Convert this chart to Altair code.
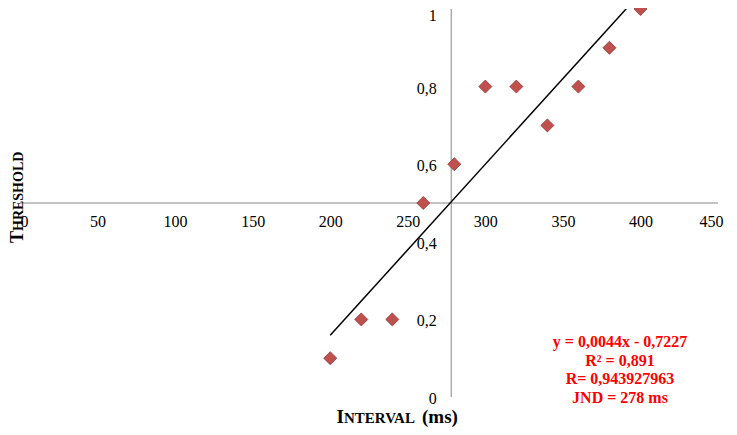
import altair as alt
import pandas as pd

# ---- data ----
interval = [200, 220, 240, 260, 280, 300, 320, 340, 360, 380, 400]
threshold = [0.1, 0.2, 0.2, 0.5, 0.6, 0.8, 0.8, 0.7, 0.8, 0.9, 1.0]
x_ticks = [0, 50, 100, 150, 200, 250, 300, 350, 400, 450]
y_ticks = [0, 0.2, 0.4, 0.6, 0.8, 1]
x_domain = [0, 450]
y_domain = [0, 1]
x_cross = 278      # vertical axis crosses at JND
y_cross = 0.5      # horizontal axis crosses at 0.5
annotation = ["y = 0,0044x - 0,7227", "R² = 0,891", "R= 0,943927963", "JND = 278 ms"]

W, H = 698, 388
FONT = "Liberation Serif"

df = pd.DataFrame({"interval": interval, "threshold": threshold})
xs = alt.Scale(domain=x_domain, nice=False, zero=False)
ys = alt.Scale(domain=y_domain, nice=False, zero=False)

x_off = -H * (y_cross - y_domain[0]) / (y_domain[1] - y_domain[0])
y_off = -W * (x_cross - x_domain[0]) / (x_domain[1] - x_domain[0])

x_axis = alt.Axis(
    values=x_ticks, orient="bottom", offset=x_off, domain=False, ticks=False,
    tickSize=0, grid=False, title=None, labelFont=FONT, labelFontSize=16,
    labelColor="black", labelPadding=10, labelOverlap=False,
    labelAlign=alt.condition("datum.value == 0", alt.value("left"), alt.value("center")),
    labelOffset=alt.condition("datum.value == 450", alt.value(-7), alt.value(0)),
)
y_axis = alt.Axis(
    values=y_ticks, orient="left", offset=y_off, domain=False, ticks=False,
    tickSize=0, grid=False, title=None, labelFont=FONT, labelFontSize=16,
    labelColor="black", labelPadding=15, labelOverlap=False,
    labelOffset=alt.condition("datum.value == 1", alt.value(6), alt.value(1.5)),
    labelExpr="replace(toString(datum.value), '.', ',')",
)

# axis lines
hline_df = pd.DataFrame({"x0": [x_domain[0]], "x1": [x_domain[1]], "y": [y_cross]})
vline_df = pd.DataFrame({"x": [x_cross], "y0": [y_domain[0]], "y1": [y_domain[1]]})

hline = alt.Chart(hline_df).mark_rule(color="#868686", strokeWidth=1).encode(
    x=alt.X("x0:Q", scale=xs, axis=x_axis), x2="x1:Q",
    y=alt.Y("y:Q", scale=ys, axis=y_axis),
)
vline = alt.Chart(vline_df).mark_rule(color="#868686", strokeWidth=1).encode(
    x=alt.X("x:Q", scale=xs, axis=x_axis),
    y=alt.Y("y0:Q", scale=ys, axis=y_axis), y2="y1:Q",
)

trend = alt.Chart(df).transform_regression(
    "interval", "threshold", method="linear"
).mark_line(color="black", strokeWidth=1.5, clip=True).encode(
    x=alt.X("interval:Q", scale=xs, axis=x_axis),
    y=alt.Y("threshold:Q", scale=ys, axis=y_axis),
)

points = alt.Chart(df).mark_point(
    shape="diamond", filled=True, size=170, fill="#C0504D",
    stroke="#8E3A38", strokeWidth=0.8, opacity=1,
).encode(
    x=alt.X("interval:Q", scale=xs, axis=x_axis),
    y=alt.Y("threshold:Q", scale=ys, axis=y_axis),
)

one = pd.DataFrame({"k": [0]})

def txt(s, x, y, size, align, angle=0, color="black", **kw):
    return alt.Chart(one).mark_text(
        text=s, font=FONT, fontSize=size, fontWeight="bold", color=color,
        align=align, baseline="alphabetic", angle=angle, **kw
    ).encode(x=alt.value(x), y=alt.value(y))

# small-caps axis titles
ytitle = txt("T", 3, 222, 18, "right", angle=270) + txt("HRESHOLD", 3, 222, 14, "left", angle=270)
xtitle = (txt("I", 324, 414, 19, "right") + txt("NTERVAL", 324, 414, 15, "left")
          + txt("(ms)", 402, 414, 19, "left"))

note = txt("\n".join(annotation), 600, 338, 16, "center", color="#FF0000",
           lineBreak="\n", lineHeight=18.5)

chart = alt.layer(hline, vline, trend, points, ytitle, xtitle, note).properties(
    width=W, height=H,
    autosize=alt.AutoSizeParams(type="none"),
    padding={"left": 12, "top": 1, "right": 11, "bottom": 30},
).configure_view(stroke=None)

chart.save("out.html", embed_options={"renderer": "svg", "actions": False})
